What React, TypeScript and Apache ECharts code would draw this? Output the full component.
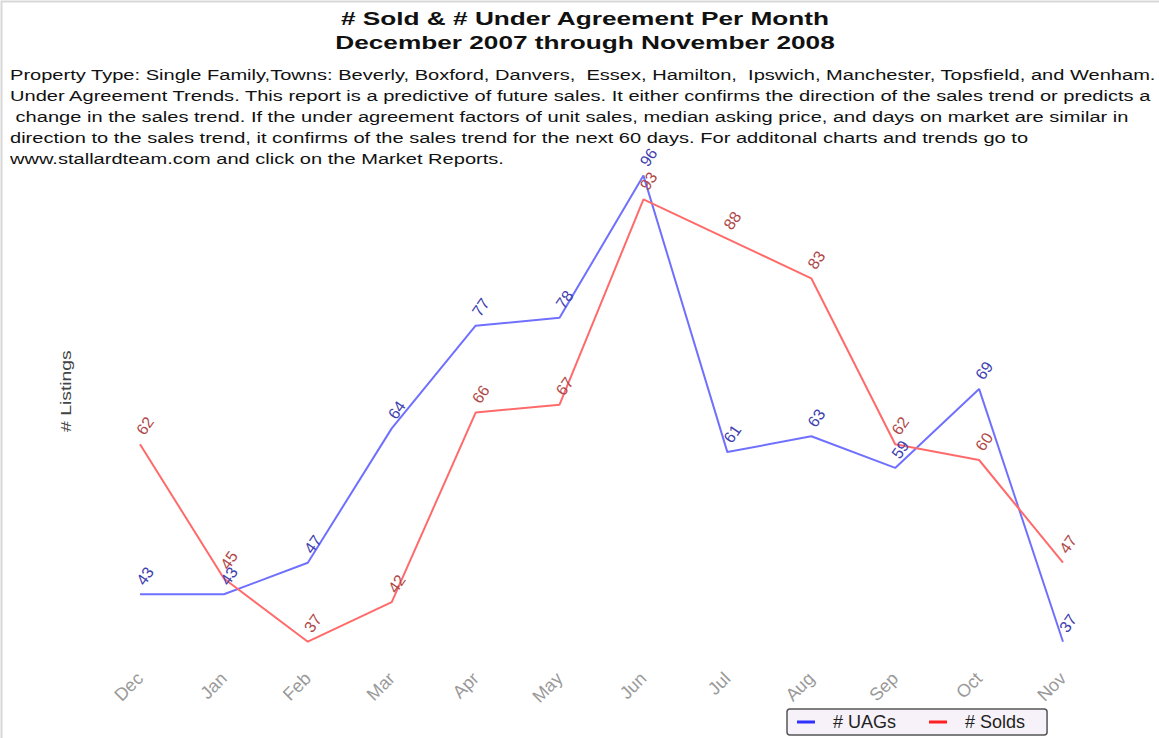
import React, { useEffect, useRef } from "react";
import * as echarts from "echarts";

const months = ["Dec", "Jan", "Feb", "Mar", "Apr", "May", "Jun", "Jul", "Aug", "Sep", "Oct", "Nov"];
const uags = [43, 43, 47, 64, 77, 78, 96, 61, 63, 59, 69, 37];
const solds = [62, 45, 37, 42, 66, 67, 93, 88, 83, 62, 60, 47];
const titleLines = ["# Sold & # Under Agreement Per Month", "December 2007 through November 2008"];
const noteLines = [
  "Property Type: Single Family,Towns: Beverly, Boxford, Danvers,  Essex, Hamilton,  Ipswich, Manchester, Topsfield, and Wenham.",
  "Under Agreement Trends. This report is a predictive of future sales. It either confirms the direction of the sales trend or predicts a",
  " change in the sales trend. If the under agreement factors of unit sales, median asking price, and days on market are similar in",
  "direction to the sales trend, it confirms of the sales trend for the next 60 days. For additonal charts and trends go to",
  "www.stallardteam.com and click on the Market Reports.",
];

export default function App() {
  const ref = useRef<HTMLDivElement>(null);
  useEffect(() => {
    if (!ref.current) return;
    const chart = echarts.init(ref.current, null, { renderer: "svg" });
    const font = "'Liberation Sans', Arial, sans-serif";
    const labelCommon = {
      show: true,
      position: "top",
      distance: 11,
      rotate: 55,
      align: "left",
      verticalAlign: "middle",
      fontSize: 16,
      fontFamily: font,
    };
    chart.setOption({
      animation: false,
      backgroundColor: "#ffffff",
      textStyle: { fontFamily: font },
      graphic: [
        {
          type: "rect",
          shape: { x: 1.5, y: 1.5, width: 1160, height: 740 },
          style: { fill: "none", stroke: "#d8d8d8", lineWidth: 2 },
          silent: true,
        },
        ...titleLines.map((t, i) => ({
          type: "text",
          x: 585,
          y: 18 + i * 24,
          scaleX: 1.38,
          style: {
            text: t,
            fontSize: 19,
            fontWeight: "bold",
            fill: "#111",
            fontFamily: font,
            align: "center",
            verticalAlign: "middle",
          },
        })),
        ...noteLines.map((t, i) => ({
          type: "text",
          x: 10,
          y: 75 + i * 21,
          scaleX: 1.295,
          style: { text: t, fontSize: 15.5, fill: "#111", fontFamily: font, verticalAlign: "middle" },
        })),
        {
          type: "text",
          x: 58,
          y: 432,
          rotation: Math.PI / 2,
          scaleX: 1.25,
          style: { text: "# Listings", fontSize: 15.5, fill: "#444", fontFamily: font },
        },
      ],
      legend: {
        bottom: 3,
        left: 787,
        data: ["# UAGs", "# Solds"],
        icon: "rect",
        itemWidth: 18,
        itemHeight: 3,
        itemGap: 33,
        backgroundColor: "#f7f2fa",
        borderColor: "#555",
        borderWidth: 1.5,
        borderRadius: 3,
        padding: [4, 22, 4, 10],
        textStyle: { fontSize: 18, color: "#222", fontFamily: font, padding: [0, 0, 0, 13] },
      },
      grid: { left: 140, right: 96, top: 144, bottom: 80.5 },
      xAxis: {
        type: "category",
        data: months,
        boundaryGap: false,
        axisLine: { show: false },
        axisTick: { show: false },
        axisLabel: { rotate: 45, color: "#9a9a9a", fontSize: 18, margin: 18, fontFamily: font },
      },
      yAxis: {
        type: "value",
        min: 35,
        max: 100,
        show: false,
        splitLine: { show: false },
      },
      series: [
        {
          name: "# UAGs",
          type: "line",
          data: uags,
          showSymbol: true,
          symbol: "circle",
          symbolSize: 0,
          lineStyle: { color: "#7070ff", width: 2 },
          itemStyle: { color: "#3030ff" },
          label: { ...labelCommon, color: "#4040b0" },
        },
        {
          name: "# Solds",
          type: "line",
          data: solds,
          showSymbol: true,
          symbol: "circle",
          symbolSize: 0,
          lineStyle: { color: "#ff6b6b", width: 2 },
          itemStyle: { color: "#ff2020" },
          label: { ...labelCommon, color: "#b04848" },
        },
      ],
    });
    return () => chart.dispose();
  }, []);
  return <div ref={ref} style={{ width: 1159, height: 738, position: "absolute", left: 0, top: 0 }} />;
}
